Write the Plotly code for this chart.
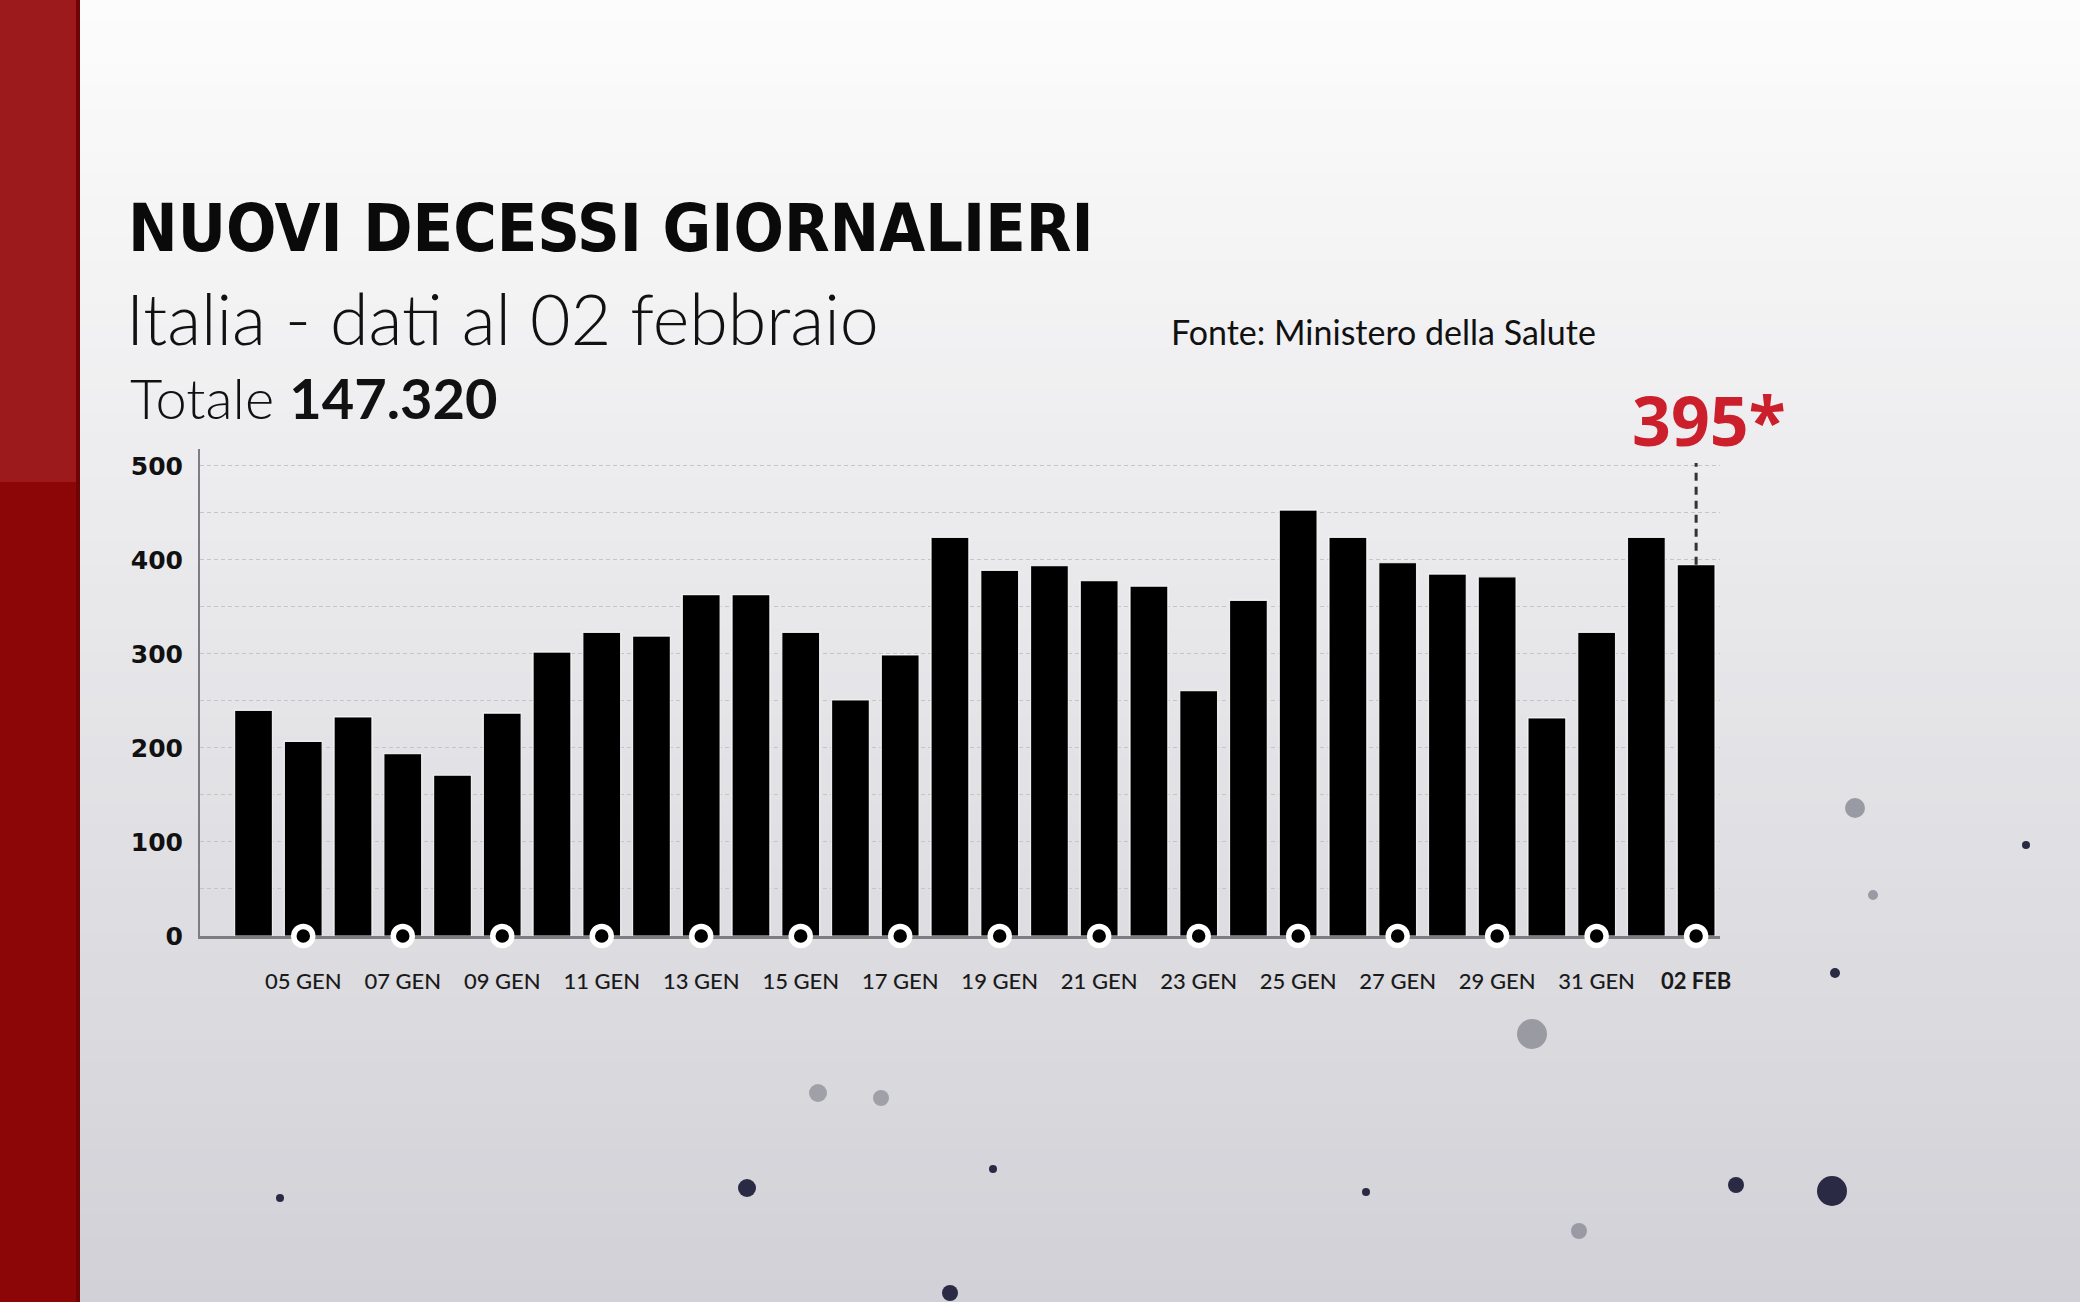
import plotly.graph_objects as go

# ---------------- data ----------------
dates = ["04 GEN", "05 GEN", "06 GEN", "07 GEN", "08 GEN", "09 GEN", "10 GEN", "11 GEN",
         "12 GEN", "13 GEN", "14 GEN", "15 GEN", "16 GEN", "17 GEN", "18 GEN", "19 GEN",
         "20 GEN", "21 GEN", "22 GEN", "23 GEN", "24 GEN", "25 GEN", "26 GEN", "27 GEN",
         "28 GEN", "29 GEN", "30 GEN", "31 GEN", "01 FEB", "02 FEB"]
deaths = [240, 207, 233, 194, 171, 237, 302, 323, 319, 363, 363, 323, 251, 299, 424, 389,
          394, 378, 372, 261, 357, 453, 424, 397, 385, 382, 232, 323, 424, 395]
y_tickvals = [0, 50, 100, 150, 200, 250, 300, 350, 400, 450, 500]
y_ticktext = ["0", "", "100", "", "200", "", "300", "", "400", "", "500"]
title_text = "NUOVI DECESSI GIORNALIERI"
subtitle_text = "Italia - dati al 02 febbraio"
total_label = "Totale"
total_value = "147.320"
source_text = "Fonte: Ministero della Salute"

# labelled days: every other day starting from 05 GEN
label_idx = list(range(1, len(dates), 2))
label_dates = [dates[i] for i in label_idx]
label_text = [("<b>%s</b>" % dates[i]) if i == len(dates) - 1 else dates[i] for i in label_idx]

# ---------------- layout geometry ----------------
W, H = 2080, 1302
PL, PR, PT, PB = 200, 1720, 449, 936   # plot area in pixels


def px(x):
    return (x - PL) / (PR - PL)


def py(y):
    return (PB - y) / (PB - PT)


fig = go.Figure()

fig.add_trace(go.Bar(
    x=dates, y=deaths,
    marker=dict(color="#000000", line=dict(color="rgba(255,255,255,0.85)", width=1.2)),
    hoverinfo="x+y",
))

fig.add_trace(go.Scatter(
    x=label_dates, y=[0] * len(label_dates), mode="markers",
    marker=dict(symbol="circle", size=19, color="#000000", line=dict(color="#ffffff", width=5.5)),
    cliponaxis=False, hoverinfo="skip",
))

shapes = []
# background vertical gradient
n = 60
c0 = (252, 252, 252)
c1 = (209, 209, 215)
for i in range(n):
    t = i / (n - 1)
    col = "rgb(%d,%d,%d)" % tuple(round(a + (b - a) * t) for a, b in zip(c0, c1))
    shapes.append(dict(type="rect", xref="paper", yref="paper", layer="below",
                       x0=px(0), x1=px(W), y0=py(H * i / n - 1), y1=py(H * (i + 1) / n + 1),
                       fillcolor=col, line=dict(width=0)))
# red band on the left
shapes.append(dict(type="rect", xref="paper", yref="paper", layer="below",
                   x0=px(0), x1=px(79), y0=py(0), y1=py(482),
                   fillcolor="#9c1a1b", line=dict(width=0)))
shapes.append(dict(type="rect", xref="paper", yref="paper", layer="below",
                   x0=px(0), x1=px(79), y0=py(482), y1=py(H),
                   fillcolor="#8d0607", line=dict(width=0)))
shapes.append(dict(type="rect", xref="paper", yref="paper", layer="below",
                   x0=px(76), x1=px(80), y0=py(0), y1=py(H),
                   fillcolor="#6e0405", line=dict(width=0)))
# decorative particles
dots = [(1832, 1191, 15, "#2a2a44"), (1736, 1185, 8, "#2a2a44"), (1532, 1034, 15, "#9a9aa2"),
        (1855, 808, 10, "#9a9aa4"), (818, 1093, 9, "#a0a0a8"), (881, 1098, 8, "#a0a0a8"),
        (747, 1188, 9, "#2a2a44"), (950, 1293, 8, "#2a2a44"), (1579, 1231, 8, "#9a9aa4"),
        (1835, 973, 5, "#2a2a44"), (2026, 845, 4, "#2a2a44"), (1873, 895, 5, "#9a9aa4"),
        (993, 1169, 4, "#2a2a44"), (1366, 1192, 4, "#2a2a44"), (280, 1198, 4, "#2a2a44")]
for (cx, cy, r, col) in dots:
    shapes.append(dict(type="circle", xref="paper", yref="paper", layer="below",
                       x0=px(cx - r), x1=px(cx + r), y0=py(cy - r), y1=py(cy + r),
                       fillcolor=col, line=dict(width=0)))
# dashed marker above last bar
shapes.append(dict(type="line", xref="x", yref="y", layer="above",
                   x0=len(dates) - 1, x1=len(dates) - 1, y0=deaths[-1], y1=503,
                   line=dict(color="#333333", width=3, dash="8px,6px")))

annotations = [
    dict(text="<b>%s</b>" % title_text, xref="paper", yref="paper", x=px(126), y=py(229),
         xanchor="left", yanchor="middle", showarrow=False,
         font=dict(family="Noto Sans ExtraCondensed, Noto Sans Condensed, Liberation Sans Narrow, "
                          "DejaVu Sans Condensed, sans-serif",
                   size=66, color="#0a0a0a")),
    dict(text=subtitle_text, xref="paper", yref="paper", x=px(124), y=py(318),
         xanchor="left", yanchor="middle", showarrow=False,
         font=dict(family="Lato, Open Sans, sans-serif", size=70, color="#111111", weight=300)),
    dict(text="%s <b>%s</b>" % (total_label, total_value), xref="paper", yref="paper",
         x=px(128), y=py(397), xanchor="left", yanchor="middle", showarrow=False,
         font=dict(family="Lato, Open Sans, sans-serif", size=56, color="#111111", weight=300)),
    dict(text=source_text, xref="paper", yref="paper", x=px(1169), y=py(331),
         xanchor="left", yanchor="middle", showarrow=False,
         font=dict(family="Lato, Open Sans, sans-serif", size=34, color="#111111")),
    dict(text="<b>%d*</b>" % deaths[-1], xref="x", yref="paper", x=len(dates) - 1, xshift=13,
         y=py(419), xanchor="center", yanchor="middle", showarrow=False,
         font=dict(family="Noto Sans, DejaVu Sans, sans-serif", size=68, color="#cc1f2c")),
]

fig.update_layout(
    width=W, height=H,
    margin=dict(l=PL, r=W - PR, t=PT, b=H - PB, autoexpand=False),
    paper_bgcolor="#ececee", plot_bgcolor="rgba(0,0,0,0)",
    showlegend=False, bargap=0.24,
    shapes=shapes, annotations=annotations,
    xaxis=dict(range=[-1.076, len(dates) - 1 + 0.48], type="category",
               tickmode="array", tickvals=label_dates, ticktext=label_text,
               ticks="", ticklabelstandoff=24, showgrid=False, zeroline=False,
               showline=True, linecolor="#7d7d82", linewidth=3, layer="below traces",
               tickfont=dict(family="Lato, Open Sans, sans-serif", size=22, color="#1a1a1a",
                             weight=500)),
    yaxis=dict(range=[0, 518], tickmode="array", tickvals=y_tickvals, ticktext=y_ticktext,
               ticks="", ticklabelstandoff=10, showgrid=True, gridcolor="#c4c4ca",
               griddash="4px,3px", gridwidth=1, zeroline=False,
               showline=True, linecolor="#7d7d82", linewidth=2, layer="below traces",
               tickfont=dict(family="DejaVu Sans, sans-serif", size=25, color="#111111",
                             weight=600)),
)

fig.write_html("out.html", config={"displayModeBar": False},
               post_script="document.body.style.margin='0';")
